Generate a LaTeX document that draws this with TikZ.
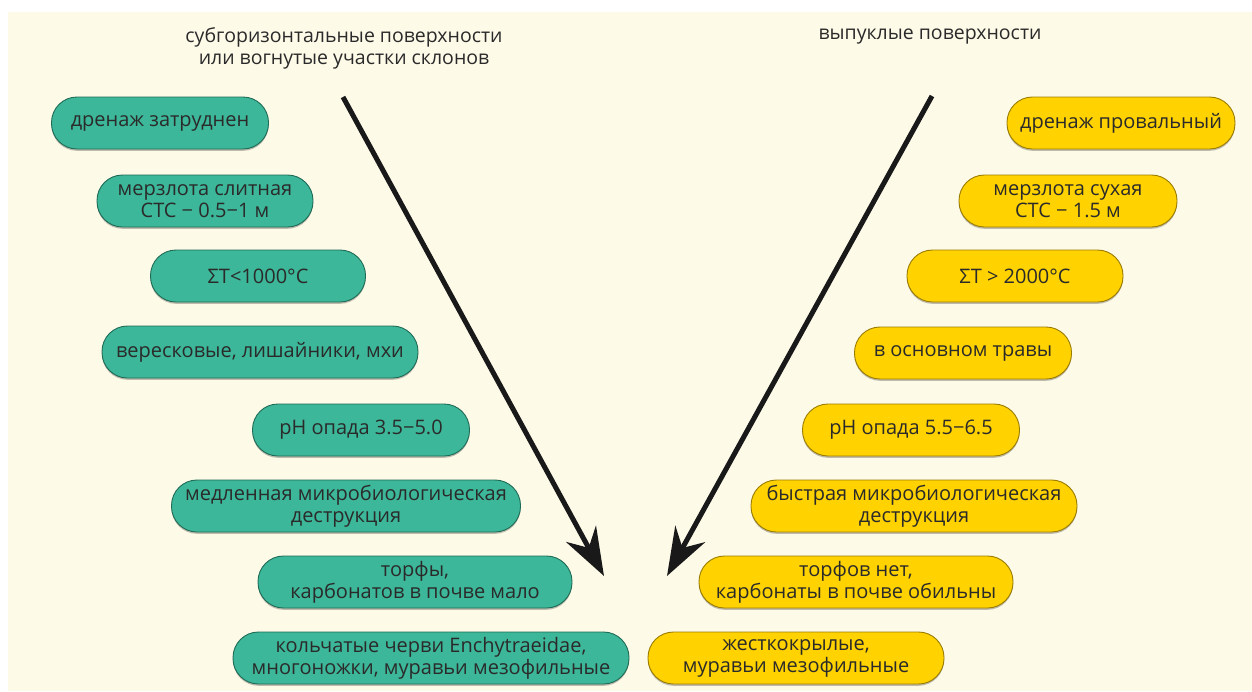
\documentclass[tikz,border=0pt]{standalone}
\usepackage{fontspec}
\setmainfont{Open Sans}
\usetikzlibrary{arrows.meta}
\definecolor{cream}{HTML}{FEFAE8}
\definecolor{gfill}{HTML}{3DB799}
\definecolor{gline}{HTML}{1E6B57}
\definecolor{yfill}{HTML}{FFD200}
\definecolor{yline}{HTML}{9A7C00}
\definecolor{txt}{HTML}{2A2A2A}
\begin{document}
\begin{tikzpicture}[x=1pt,y=-1pt,
  pill/.style={rectangle, rounded corners=25.5pt, minimum height=52pt, inner sep=0pt,
    align=center, text=txt, font=\fontsize{20}{22}\selectfont, line width=0.9pt,
    preaction={fill=black, opacity=0.25, transform canvas={yshift=-1.8pt}}},
  gpill/.style={pill, fill=gfill, draw=gline},
  ypill/.style={pill, fill=yfill, draw=yline},
  ttl/.style={align=center, text=txt, font=\fontsize{19.5}{22}\selectfont},
  bigarrow/.style={line width=5pt, draw=black!90, -{Stealth[length=48pt, width=34pt, inset=16pt]}}]
\useasboundingbox (0,0) rectangle (1252,691);
\fill[white] (0,0) rectangle (1252,691);
\fill[cream] (8,12) rectangle (1252,691);

\node[ttl] (tl) at (344,48) {субгоризонтальные поверхности\\или вогнутые участки склонов};
\node[ttl] (tr) at (930,37) {выпуклые поверхности};

\node[gpill, minimum width=217pt] (g1) at (160,123) {дренаж затруднен};
\node[gpill, minimum width=216pt] (g2) at (205,201) {мерзлота слитная\\СТС − 0.5−1 м};
\node[gpill, minimum width=215pt] (g3) at (258,276) {ΣT<1000°C};
\node[gpill, minimum width=316pt] (g4) at (260,352) {вересковые, лишайники, мхи};
\node[gpill, minimum width=217pt] (g5) at (361,430) {pH опада 3.5−5.0};
\node[gpill, minimum width=349pt] (g6) at (346,506) {медленная микробиологическая\\деструкция};
\node[gpill, minimum width=314pt] (g7) at (415,582) {торфы,\\карбонатов в почве мало};
\node[gpill, minimum width=396pt] (g8) at (431,658) {кольчатые черви Enchytraeidae,\\многоножки, муравьи мезофильные};

\node[ypill, minimum width=228pt] (y1) at (1121,123) {дренаж провальный};
\node[ypill, minimum width=218pt] (y2) at (1068,201) {мерзлота сухая\\СТС − 1.5 м};
\node[ypill, minimum width=216pt] (y3) at (1015,276) {ΣT > 2000°C};
\node[ypill, minimum width=217pt] (y4) at (963,353) {в основном травы};
\node[ypill, minimum width=217pt] (y5) at (911,430) {pH опада 5.5−6.5};
\node[ypill, minimum width=326pt] (y6) at (914,506) {быстрая микробиологическая\\деструкция};
\node[ypill, minimum width=314pt] (y7) at (856,582) {торфов нет,\\карбонаты в почве обильны};
\node[ypill, minimum width=296pt] (y8) at (796,658) {жесткокрылые,\\муравьи мезофильные};

\coordinate (ls) at (343,97);
\coordinate (le) at (604,576);
\coordinate (rs) at (932,96);
\coordinate (re) at (667,576);
\draw[bigarrow] (ls) -- (le);
\draw[bigarrow] (rs) -- (re);
\end{tikzpicture}
\end{document}
